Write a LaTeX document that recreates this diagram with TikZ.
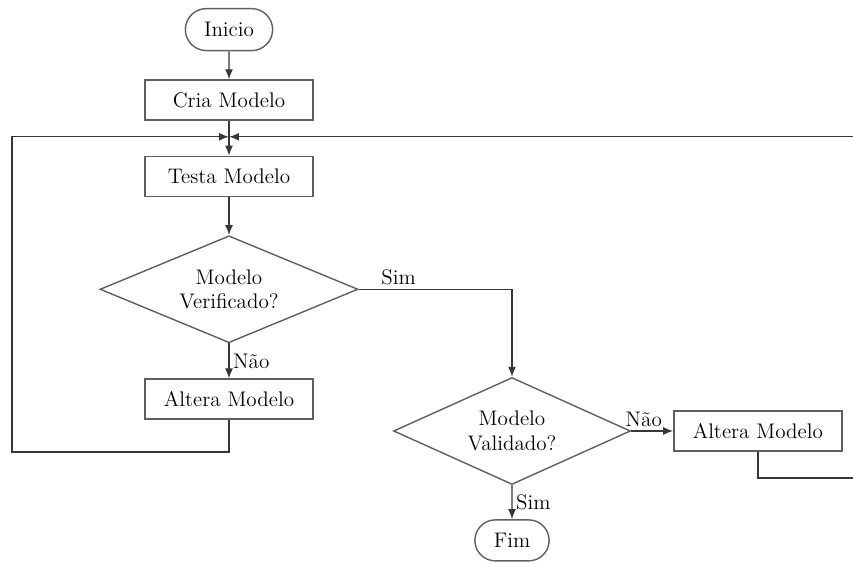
\documentclass[tikz,border=0pt]{standalone}
\usetikzlibrary{arrows.meta,positioning,calc,shapes.geometric,shapes.misc}
\definecolor{ink}{RGB}{55,55,55}
\definecolor{edge}{RGB}{95,95,95}
\tikzset{
  box/.style={draw=edge, line width=0.8pt, minimum width=3.36cm, minimum height=0.8cm, font=\fontsize{12}{14}\selectfont},
  decision/.style={diamond, shape aspect=2.3, draw=edge, line width=0.8pt, align=center, inner sep=0pt, font=\fontsize{12}{14}\selectfont},
  terminal/.style={rounded rectangle, draw=edge, line width=0.8pt, minimum height=0.84cm, font=\fontsize{12}{14}\selectfont},
  flow/.style={-{Latex[length=2mm,width=1.6mm]}, line width=0.8pt, draw=ink},
  answer/.style={font=\fontsize{12}{14}\selectfont, inner sep=2pt}
}
\begin{document}
\begin{tikzpicture}[x=0.02cm, y=-0.02cm, node distance=7mm]
\useasboundingbox (0,0) rectangle (853,563);
\clip (0,0) rectangle (853,563);
% main column
\node[box] (cria) at (229,100) {Cria Modelo};
\node[terminal, minimum width=1.98cm, above=5.6mm of cria] (inicio) {Inicio};
\node[box, below=of cria] (testa) {Testa Modelo};
\node[decision, minimum width=5.16cm, minimum height=2.14cm, below=7.6mm of testa] (verif) {Modelo\\Verificado?};
\node[box, below=of verif] (altera) {Altera Modelo};
% second decision
\node[decision, minimum width=4.74cm, minimum height=2.14cm] (valid) at (512,431) {Modelo\\Validado?};
\node[box, right=8.4mm of valid] (alterab) {Altera Modelo};
\node[terminal, minimum width=1.72cm, minimum height=0.82cm, below=6.8mm of valid] (fim) {Fim};
% loop points
\coordinate (join) at ($(cria.south)!0.46!(testa.north)$);
\coordinate (leftrail) at (12,452);
\coordinate (rightrail) at (880,478);
\draw[flow] (inicio) -- (cria);
\draw[flow] (cria) -- (testa);
\draw[flow] (testa) -- (verif);
\draw[flow] (verif) -- node[answer, right] {Não} (altera);
\draw[flow] (verif.east) -| node[answer, above, pos=0.13] {Sim} (valid.north);
\draw[flow] (altera.south) |- (leftrail) |- (join);
\draw[flow] (valid.east) -- node[answer, above, pos=0.3] {Não} (alterab);
\draw[flow] (valid) -- node[answer, right] {Sim} (fim);
\draw[flow] (alterab.south) |- (rightrail) |- (join);
\end{tikzpicture}
\end{document}
